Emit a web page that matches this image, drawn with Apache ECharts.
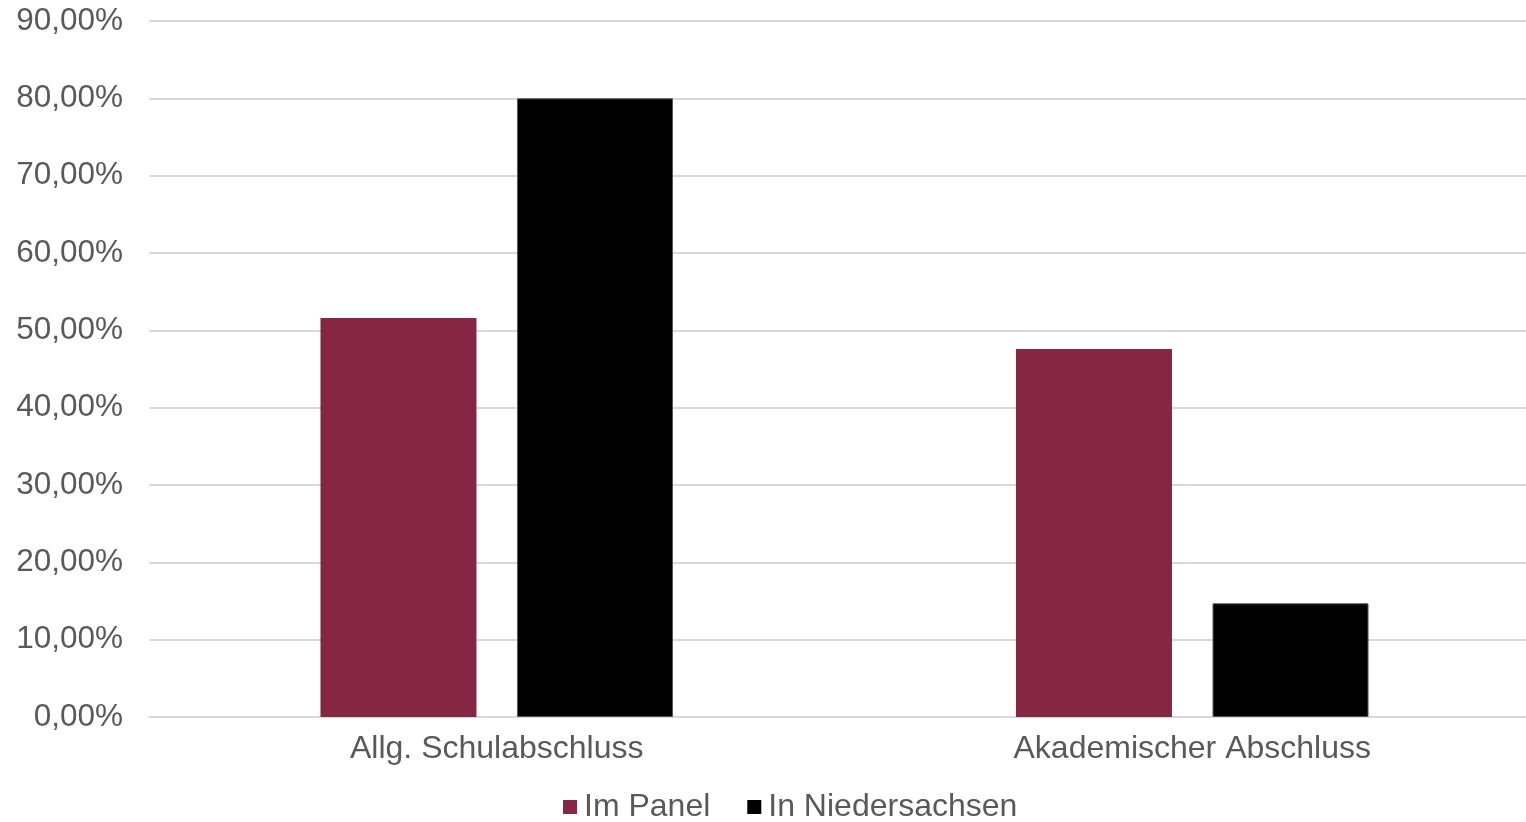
<!DOCTYPE html>
<html><head><meta charset="utf-8">
<script src="https://cdn.jsdelivr.net/npm/echarts@6/dist/echarts.min.js"></script>
<style>html,body{margin:0;padding:0;background:#fff}#c{width:1526px;height:822px}</style>
</head><body><div id="c"></div>
<script>
const categories = ["Allg. Schulabschluss", "Akademischer Abschluss"];
const seriesNames = ["Im Panel", "In Niedersachsen"];
const panelValues = [51.6, 47.6];
const niedersachsenValues = [80.0, 14.7];
const yTicks = [0, 10, 20, 30, 40, 50, 60, 70, 80, 90];

const chart = echarts.init(document.getElementById('c'), null, {renderer: 'canvas'});
const font = '"Liberation Sans", Arial, Helvetica, sans-serif';
chart.setOption({
  animation: false,
  textStyle: {fontFamily: font},
  grid: {left: 149, right: -14, top: 21, bottom: 105, containLabel: false, outerBoundsMode: 'none'},
  legend: {
    top: 786, left: 558,
    itemWidth: 14, itemHeight: 14, itemGap: 37,
    icon: 'rect',
    itemStyle: {borderWidth: 0},
    textStyle: {fontSize: 32, color: '#595959', fontFamily: font, padding: [0,0,0,2]},
    data: seriesNames
  },
  xAxis: {
    type: 'category', data: categories,
    axisLine: {show: true, lineStyle: {color: '#d9d9d9', width: 2}},
    axisTick: {show: false},
    axisLabel: {fontSize: 32, color: '#595959', margin: 16, fontFamily: font}
  },
  yAxis: {
    type: 'value', min: yTicks[0], max: yTicks[yTicks.length-1], interval: 10,
    axisLine: {show: false}, axisTick: {show: false},
    splitLine: {lineStyle: {color: '#d9d9d9', width: 2}},
    axisLabel: {fontSize: 31.5, color: '#595959', margin: 26, fontFamily: font,
      formatter: v => v.toFixed(2).replace('.', ',') + '%'}
  },
  series: [
    {name: seriesNames[0], type: 'bar', data: panelValues, barWidth: 156, barGap: '26%',
     itemStyle: {color: '#862645'}},
    {name: seriesNames[1], type: 'bar', data: niedersachsenValues, barWidth: 156, barGap: '26%',
     itemStyle: {color: '#000000', borderColor: '#555', borderWidth: 1}}
  ]
});
</script></body></html>
